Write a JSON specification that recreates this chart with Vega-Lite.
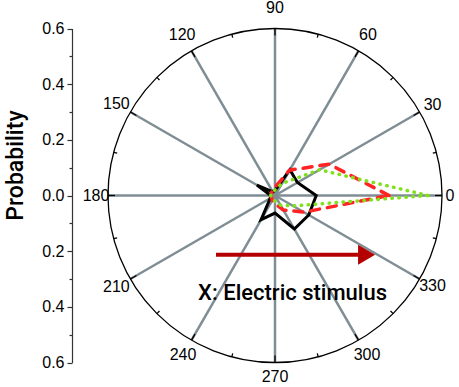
{
  "$schema": "https://vega.github.io/schema/vega-lite/v6.json",
  "width": 387,
  "height": 387,
  "autosize": {"type": "none"},
  "padding": {"left": 72, "top": 0, "right": 0, "bottom": 0},
  "background": "white",
  "config": {"view": {"stroke": null}},
  "datasets": {
    "series": [
      {"series": "black", "angle": 0, "r": 0.148},
      {"series": "black", "angle": 30, "r": 0.093},
      {"series": "black", "angle": 60, "r": 0.107},
      {"series": "black", "angle": 90, "r": 0.018},
      {"series": "black", "angle": 120, "r": 0.015},
      {"series": "black", "angle": 150, "r": 0.075},
      {"series": "black", "angle": 180, "r": 0.015},
      {"series": "black", "angle": 210, "r": 0.02},
      {"series": "black", "angle": 240, "r": 0.1},
      {"series": "black", "angle": 270, "r": 0.063},
      {"series": "black", "angle": 300, "r": 0.139},
      {"series": "black", "angle": 330, "r": 0.14},
      {"series": "red", "angle": 0, "r": 0.41},
      {"series": "red", "angle": 30, "r": 0.225},
      {"series": "red", "angle": 60, "r": 0.105},
      {"series": "red", "angle": 90, "r": 0.03},
      {"series": "red", "angle": 120, "r": 0.02},
      {"series": "red", "angle": 150, "r": 0.015},
      {"series": "red", "angle": 180, "r": 0.015},
      {"series": "red", "angle": 210, "r": 0.015},
      {"series": "red", "angle": 240, "r": 0.02},
      {"series": "red", "angle": 270, "r": 0.03},
      {"series": "red", "angle": 300, "r": 0.06},
      {"series": "red", "angle": 330, "r": 0.12},
      {"series": "green", "angle": 0, "r": 0.55},
      {"series": "green", "angle": 30, "r": 0.185},
      {"series": "green", "angle": 60, "r": 0.05},
      {"series": "green", "angle": 90, "r": 0.02},
      {"series": "green", "angle": 120, "r": 0.015},
      {"series": "green", "angle": 150, "r": 0.015},
      {"series": "green", "angle": 180, "r": 0.015},
      {"series": "green", "angle": 210, "r": 0.015},
      {"series": "green", "angle": 240, "r": 0.015},
      {"series": "green", "angle": 270, "r": 0.02},
      {"series": "green", "angle": 300, "r": 0.04},
      {"series": "green", "angle": 330, "r": 0.075}
    ],
    "angles": [
      {"angle": 0}, {"angle": 30}, {"angle": 60}, {"angle": 90},
      {"angle": 120}, {"angle": 150}, {"angle": 180}, {"angle": 210},
      {"angle": 240}, {"angle": 270}, {"angle": 300}, {"angle": 330}
    ],
    "ticks": [
      {"angle": 0}, {"angle": 15}, {"angle": 30}, {"angle": 45},
      {"angle": 60}, {"angle": 75}, {"angle": 90}, {"angle": 105},
      {"angle": 120}, {"angle": 135}, {"angle": 150}, {"angle": 165},
      {"angle": 180}, {"angle": 195}, {"angle": 210}, {"angle": 225},
      {"angle": 240}, {"angle": 255}, {"angle": 270}, {"angle": 285},
      {"angle": 300}, {"angle": 315}, {"angle": 330}, {"angle": 345}
    ]
  },
  "encoding": {
    "x": {
      "field": "px",
      "type": "quantitative",
      "scale": {"domain": [-0.6, 0.6], "range": [36, 370], "nice": false, "zero": false},
      "axis": null
    },
    "y": {
      "field": "py",
      "type": "quantitative",
      "scale": {"domain": [-0.6, 0.6], "range": [362.5, 28.5], "nice": false, "zero": false},
      "axis": {
        "values": [-0.6, -0.5, -0.4, -0.3, -0.2, -0.1, 0, 0.1, 0.2, 0.3, 0.4, 0.5, 0.6],
        "labelExpr": "abs(round(datum.value*10))%2==0 ? format(abs(datum.value),'.1f') : ''",
        "tickSize": {"condition": {"test": "abs(round(datum.value*10))%2==0", "value": 5}, "value": 3},
        "grid": false,
        "domainColor": "#333333",
        "tickColor": "#333333",
        "domainWidth": 1.2,
        "tickWidth": 1.2,
        "labelFont": "Liberation Sans",
        "labelFontSize": 16,
        "labelColor": "black",
        "labelPadding": 3,
        "labelFlush": false,
        "labelOverlap": false,
        "title": "Probability",
        "titleFont": "Roboto",
        "titleFontSize": 23,
        "titleFontWeight": 500,
        "titleColor": "black",
        "titleAngle": 270,
        "titleX": -57,
        "titleY": 165,
        "titleAlign": "center",
        "titleBaseline": "middle"
      }
    }
  },
  "layer": [
    {
      "data": {"name": "angles"},
      "transform": [
        {"calculate": "0.6*cos(datum.angle*PI/180)", "as": "px"},
        {"calculate": "0.6*sin(datum.angle*PI/180)", "as": "py"},
        {"calculate": "0", "as": "x0"},
        {"calculate": "0", "as": "y0"}
      ],
      "mark": {"type": "rule", "color": "#7f8d95", "strokeWidth": 2.5},
      "encoding": {
        "x2": {"field": "x0"},
        "y2": {"field": "y0"}
      }
    },
    {
      "data": {"values": [{"name": "rim"}]},
      "transform": [
        {"calculate": "0", "as": "px"},
        {"calculate": "0", "as": "py"}
      ],
      "mark": {"type": "point", "shape": "circle", "filled": false, "size": 111556, "stroke": "black", "strokeWidth": 1.3, "opacity": 1},
      "encoding": {}
    },
    {
      "data": {"name": "ticks"},
      "transform": [
        {"calculate": "0.6*cos(datum.angle*PI/180)", "as": "px"},
        {"calculate": "0.6*sin(datum.angle*PI/180)", "as": "py"},
        {"calculate": "(datum.angle%30==0 ? 0.575 : 0.587)*cos(datum.angle*PI/180)", "as": "qx"},
        {"calculate": "(datum.angle%30==0 ? 0.575 : 0.587)*sin(datum.angle*PI/180)", "as": "qy"}
      ],
      "mark": {"type": "rule", "color": "black", "strokeWidth": 1.3},
      "encoding": {
        "x2": {"field": "qx"},
        "y2": {"field": "qy"}
      }
    },
    {
      "data": {"name": "series"},
      "transform": [
        {"filter": "datum.series == 'black'"},
        {"calculate": "datum.r*cos(datum.angle*PI/180)", "as": "px"},
        {"calculate": "datum.r*sin(datum.angle*PI/180)", "as": "py"}
      ],
      "mark": {"type": "line", "interpolate": "linear-closed", "color": "black", "strokeWidth": 3, "strokeJoin": "miter"},
      "encoding": {"order": {"field": "angle", "type": "quantitative"}}
    },
    {
      "data": {"name": "series"},
      "transform": [
        {"filter": "datum.series == 'red'"},
        {"calculate": "datum.r*cos(datum.angle*PI/180)", "as": "px"},
        {"calculate": "datum.r*sin(datum.angle*PI/180)", "as": "py"}
      ],
      "mark": {"type": "line", "interpolate": "linear-closed", "color": "#ff2323", "strokeWidth": 3.5, "strokeDash": [9, 8], "strokeCap": "round"},
      "encoding": {"order": {"field": "angle", "type": "quantitative"}}
    },
    {
      "data": {"name": "series"},
      "transform": [
        {"filter": "datum.series == 'green'"},
        {"calculate": "datum.r*cos(datum.angle*PI/180)", "as": "px"},
        {"calculate": "datum.r*sin(datum.angle*PI/180)", "as": "py"}
      ],
      "mark": {"type": "line", "interpolate": "linear-closed", "color": "#80e01c", "strokeWidth": 3.5, "strokeDash": [0.5, 6.5], "strokeCap": "round"},
      "encoding": {"order": {"field": "angle", "type": "quantitative"}}
    },
    {
      "data": {"name": "angles"},
      "transform": [
        {"calculate": "0.665 - pow(abs(cos(datum.angle*PI/180)), 8)*(cos(datum.angle*PI/180) > 0 ? 0.036 : 0.022) - 0.012*pow(max(0, -sin(datum.angle*PI/180)), 8) + 0.008*pow(max(0, sin(datum.angle*PI/180)), 8)", "as": "R"},
        {"calculate": "datum.R*cos(datum.angle*PI/180)", "as": "px"},
        {"calculate": "datum.R*sin(datum.angle*PI/180)", "as": "py"},
        {"calculate": "'' + datum.angle", "as": "label"}
      ],
      "mark": {"type": "text", "font": "Liberation Sans", "fontSize": 16, "color": "black", "align": "center", "baseline": "middle"},
      "encoding": {"text": {"field": "label"}}
    },
    {
      "data": {"values": [{"name": "arrow"}]},
      "transform": [
        {"calculate": "-0.212", "as": "px"},
        {"calculate": "0.305", "as": "qx"},
        {"calculate": "-0.213", "as": "py"}
      ],
      "mark": {"type": "rule", "color": "#b40000", "strokeWidth": 4, "strokeCap": "butt"},
      "encoding": {
        "x2": {"field": "qx"}
      }
    },
    {
      "data": {"values": [{"name": "arrowhead"}]},
      "transform": [
        {"calculate": "0.329", "as": "px"},
        {"calculate": "-0.213", "as": "py"}
      ],
      "mark": {"type": "point", "shape": "M-0.85,-1L0.85,0L-0.85,1Z", "filled": true, "size": 400, "color": "#b40000", "opacity": 1, "strokeWidth": 0},
      "encoding": {}
    },
    {
      "data": {"values": [{"label": "X: Electric stimulus"}]},
      "transform": [
        {"calculate": "0.063", "as": "px"},
        {"calculate": "-0.349", "as": "py"}
      ],
      "mark": {"type": "text", "font": "Roboto", "fontSize": 22, "fontWeight": 500, "color": "black", "align": "center", "baseline": "middle"},
      "encoding": {"text": {"field": "label"}}
    }
  ]
}
